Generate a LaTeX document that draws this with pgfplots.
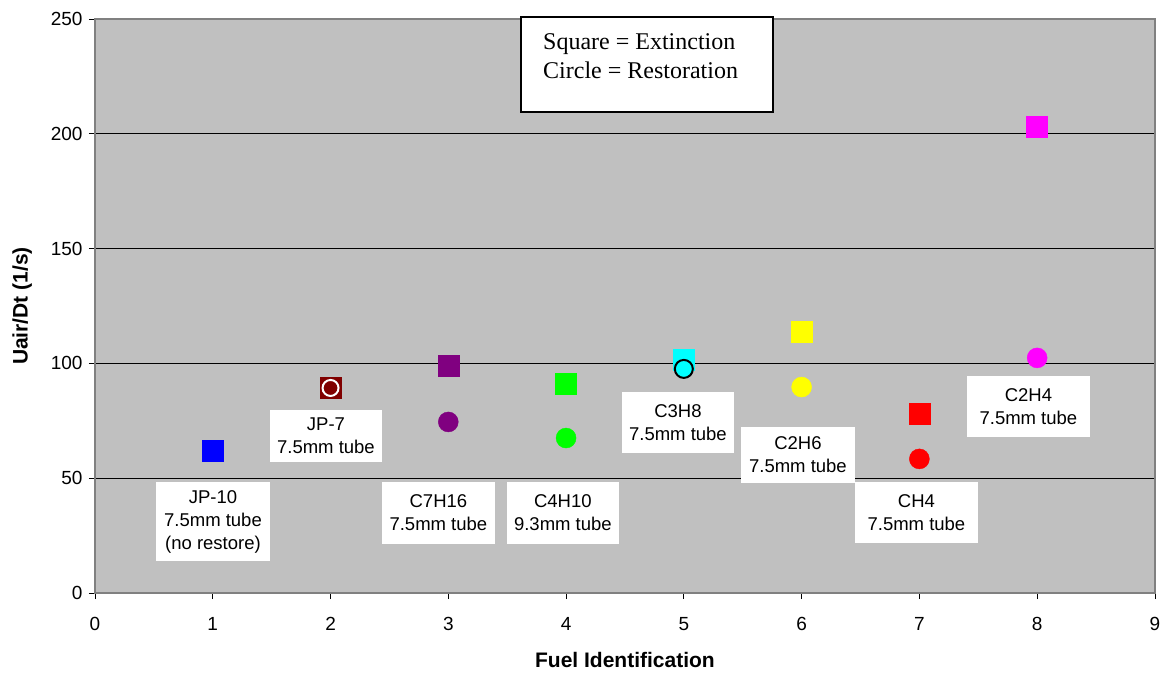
\documentclass[border=0pt]{standalone}
\usepackage{fontspec}
\setmainfont{Liberation Sans}
\newfontfamily\timesfont{Liberation Serif}
\usepackage{pgfplots}
\pgfplotsset{compat=1.18}
\definecolor{bggray}{RGB}{192,192,192}
\definecolor{framegray}{RGB}{128,128,128}
\definecolor{cblue}{RGB}{0,0,255}
\definecolor{cmaroon}{RGB}{128,0,0}
\definecolor{cpurple}{RGB}{128,0,128}
\definecolor{cgreen}{RGB}{0,255,0}
\definecolor{ccyan}{RGB}{0,255,255}
\definecolor{cyellow}{RGB}{255,255,0}
\definecolor{cred}{RGB}{255,0,0}
\definecolor{cmagenta}{RGB}{255,0,255}
\begin{document}
\begin{tikzpicture}[x=1pt,y=1pt]
\path[use as bounding box] (-95,-82) rectangle (1073,593);
\begin{axis}[
  at={(0,0)}, anchor=south west,
  scale only axis, width=1060pt, height=574pt,
  xmin=0, xmax=9, ymin=0, ymax=250,
  xtick={0,1,...,9}, ytick={0,50,...,250},
  axis background/.style={fill=bggray},
  axis line style={draw=framegray, line width=1.5pt},
  tick align=outside, tick pos=left,
  major tick length=6pt,
  tick style={black, line width=0.8pt},
  ymajorgrids, grid style={black, line width=0.8pt},
  /pgf/number format/assume math mode=true,
  ticklabel style={font=\fontsize{19}{22}\selectfont},
  yticklabel style={xshift=-3pt},
  xticklabel style={yshift=-15pt},
  xlabel={\bfseries Fuel Identification},
  ylabel={\bfseries Uair/Dt (1/s)},
  label style={font=\fontsize{21}{24}\selectfont},
  xlabel style={yshift=-14pt},
  ylabel style={yshift=12pt},
  clip=false,
]
% Extinction (squares)
\addplot[only marks, mark=square*, mark size=10.5pt, color=cblue] coordinates {(1,62)};
\addplot[only marks, mark=square*, mark size=10.5pt, color=cmaroon] coordinates {(2,89.3)};
\addplot[only marks, mark=square*, mark size=10.5pt, color=cpurple] coordinates {(3,98.9)};
\addplot[only marks, mark=square*, mark size=10.5pt, color=cgreen] coordinates {(4,91)};
\addplot[only marks, mark=square*, mark size=10.5pt, color=ccyan] coordinates {(5,101.5)};
\addplot[only marks, mark=square*, mark size=10.5pt, color=cyellow] coordinates {(6,114)};
\addplot[only marks, mark=square*, mark size=10.5pt, color=cred] coordinates {(7,78)};
\addplot[only marks, mark=square*, mark size=10.5pt, color=cmagenta] coordinates {(8,203)};
% Restoration (circles)
\addplot[only marks, mark=*, mark size=8pt, mark options={fill=cmaroon, draw=white, line width=2pt}] coordinates {(2,89.3)};
\addplot[only marks, mark=*, mark size=10pt, color=cpurple] coordinates {(3,74.5)};
\addplot[only marks, mark=*, mark size=10pt, color=cgreen] coordinates {(4,67.5)};
\addplot[only marks, mark=*, mark size=9pt, mark options={fill=ccyan, draw=black, line width=2pt}] coordinates {(5,97.6)};
\addplot[only marks, mark=*, mark size=10pt, color=cyellow] coordinates {(6,89.7)};
\addplot[only marks, mark=*, mark size=10pt, color=cred] coordinates {(7,58.4)};
\addplot[only marks, mark=*, mark size=10pt, color=cmagenta] coordinates {(8,102.4)};
% label boxes
\tikzset{lbl/.style={fill=white, align=center, inner sep=0pt, font=\fontsize{18.5}{23}\selectfont}}
\node[lbl, minimum width=114pt, minimum height=79pt] at (axis cs:1.002,31.1) {JP-10\\7.5mm tube\\(no restore)};
\node[lbl, minimum width=112pt, minimum height=52pt] at (axis cs:1.961,68.4) {JP-7\\7.5mm tube};
\node[lbl, minimum width=113pt, minimum height=62pt] at (axis cs:2.916,34.8) {C7H16\\7.5mm tube};
\node[lbl, minimum width=112pt, minimum height=62pt] at (axis cs:3.973,34.8) {C4H10\\9.3mm tube};
\node[lbl, minimum width=112pt, minimum height=61pt] at (axis cs:4.950,74.3) {C3H8\\7.5mm tube};
\node[lbl, minimum width=114pt, minimum height=56pt] at (axis cs:5.969,60.1) {C2H6\\7.5mm tube};
\node[lbl, minimum width=123pt, minimum height=61pt] at (axis cs:6.975,35.1) {CH4\\7.5mm tube};
\node[lbl, minimum width=123pt, minimum height=61pt] at (axis cs:7.926,81.2) {C2H4\\7.5mm tube};
% legend box
\draw[fill=white, draw=black, line width=1.5pt] (axis cs:3.617,250.9) rectangle (axis cs:5.757,209.5);
\node[anchor=base west, inner sep=0pt, font=\timesfont\fontsize{24}{28}\selectfont] at (axis cs:3.804,236.9) {Square = Extinction};
\node[anchor=base west, inner sep=0pt, font=\timesfont\fontsize{24}{28}\selectfont] at (axis cs:3.804,224.3) {Circle = Restoration};
\end{axis}
\end{tikzpicture}
\end{document}
